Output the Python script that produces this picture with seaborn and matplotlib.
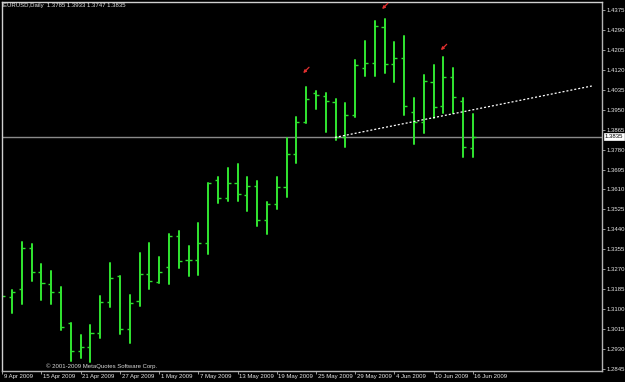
import numpy as np
import pandas as pd
import matplotlib
matplotlib.use("Agg")
import matplotlib.pyplot as plt
import matplotlib.transforms as mtransforms
import seaborn as sns

# ---------------- data ----------------
dates = ["9 Apr 2009", "10 Apr 2009", "13 Apr 2009", "14 Apr 2009", "15 Apr 2009", "16 Apr 2009",
         "17 Apr 2009", "20 Apr 2009", "21 Apr 2009", "22 Apr 2009", "23 Apr 2009", "24 Apr 2009",
         "27 Apr 2009", "28 Apr 2009", "29 Apr 2009", "30 Apr 2009", "1 May 2009", "4 May 2009",
         "5 May 2009", "6 May 2009", "7 May 2009", "8 May 2009", "11 May 2009", "12 May 2009",
         "13 May 2009", "14 May 2009", "15 May 2009", "18 May 2009", "19 May 2009", "20 May 2009",
         "21 May 2009", "22 May 2009", "25 May 2009", "26 May 2009", "27 May 2009", "28 May 2009",
         "29 May 2009", "1 Jun 2009", "2 Jun 2009", "3 Jun 2009", "4 Jun 2009", "5 Jun 2009",
         "8 Jun 2009", "9 Jun 2009", "10 Jun 2009", "11 Jun 2009", "12 Jun 2009", "15 Jun 2009",
         "16 Jun 2009"]

opens = [1.3250, 1.3150, 1.3186, 1.3362, 1.3257, 1.3207, 1.3173, 1.3039, 1.2921, 1.2940,
         1.2999, 1.3131, 1.3241, 1.3015, 1.3133, 1.3250, 1.3217, 1.3281, 1.3412, 1.3309,
         1.3309, 1.3383, 1.3650, 1.3572, 1.3639, 1.3586, 1.3626, 1.3480, 1.3548, 1.3622,
         1.3760, 1.3896, 1.4020, 1.4008, 1.3984, 1.3835, 1.3927, 1.4126, 1.4150, 1.4304,
         1.4145, 1.4172, 1.3939, 1.3896, 1.4069, 1.3966, 1.4091, 1.3987, 1.3785]
highs = [1.3331, 1.3181, 1.3385, 1.3377, 1.3292, 1.3264, 1.3193, 1.3042, 1.2990, 1.3032,
         1.3156, 1.3298, 1.3241, 1.3160, 1.3338, 1.3380, 1.3323, 1.3419, 1.3433, 1.3370,
         1.3466, 1.3636, 1.3662, 1.3703, 1.3719, 1.3662, 1.3646, 1.3558, 1.3662, 1.3828,
         1.3918, 1.4045, 1.4031, 1.4020, 1.3995, 1.3977, 1.4162, 1.4243, 1.4329, 1.4337,
         1.4237, 1.4265, 1.3999, 1.4098, 1.4141, 1.4173, 1.4126, 1.3999, 1.3933]
lows = [1.3122, 1.3082, 1.3120, 1.3220, 1.3139, 1.3120, 1.3011, 1.2880, 1.2890, 1.2876,
        1.2975, 1.3108, 1.2992, 1.2957, 1.3112, 1.3184, 1.3212, 1.3207, 1.3276, 1.3241,
        1.3245, 1.3335, 1.3554, 1.3561, 1.3561, 1.3518, 1.3455, 1.3420, 1.3525, 1.3579,
        1.3722, 1.3892, 1.3953, 1.3854, 1.3821, 1.3789, 1.3918, 1.4094, 1.4095, 1.4105,
        1.4067, 1.3927, 1.3802, 1.3849, 1.3913, 1.3935, 1.3935, 1.3750, 1.3747]
closes = [1.3156, 1.3174, 1.3362, 1.3259, 1.3210, 1.3174, 1.3022, 1.2921, 1.2940, 1.2999,
          1.3129, 1.3231, 1.3016, 1.3128, 1.3250, 1.3220, 1.3259, 1.3412, 1.3305, 1.3309,
          1.3383, 1.3636, 1.3575, 1.3639, 1.3589, 1.3626, 1.3480, 1.3548, 1.3622, 1.3760,
          1.3899, 1.3994, 1.4013, 1.3987, 1.3833, 1.3927, 1.4141, 1.4148, 1.4307, 1.4145,
          1.4172, 1.3966, 1.3896, 1.4072, 1.3963, 1.4091, 1.4003, 1.3790, 1.3835]

date_tick_idx = [0, 4, 8, 12, 16, 20, 24, 28, 32, 36, 40, 44, 48]
price_ticks = [1.4375, 1.4290, 1.4205, 1.4120, 1.4035, 1.3950, 1.3865, 1.3780, 1.3695,
               1.3610, 1.3525, 1.3440, 1.3355, 1.3270, 1.3185, 1.3100, 1.3015, 1.2930, 1.2845]
current_price = 1.3835
title_text = "EURUSD,Daily  1.3785 1.3933 1.3747 1.3835"
copyright_text = "\u00a9 2001-2009 MetaQuotes Software Corp."

trend_x = [33.95, 60.15]
trend_y = [1.3832, 1.4051]

arrow_x = [30.7, 38.75, 44.75]
arrow_y = [1.4106, 1.4379, 1.4204]

# ---------------- styling ----------------
sns.set_theme(style="dark")
plt.rcParams["font.family"] = ["Liberation Sans", "DejaVu Sans"]
plt.rcParams["axes.facecolor"] = "black"
plt.rcParams["figure.facecolor"] = "black"

GREEN = "#2fe02f"
TXT = "#e6e6e6"
FS = 4.3

W, H = 625, 382
fig = plt.figure(figsize=(W / 100, H / 100), dpi=100)
left_px, right_px, top_px, bot_px = 2.0, 601.7, 1.5, 371.0
ax = fig.add_axes([left_px / W, 1 - bot_px / H, (right_px - left_px) / W, (bot_px - top_px) / H])
ax.set_facecolor("black")

n = len(opens)
idx = np.arange(n)

# high-low vertical bars through seaborn
df = pd.DataFrame({
    "bar": np.repeat(idx, 2),
    "idx": np.repeat(idx, 2).astype(float),
    "price": np.ravel(np.column_stack([lows, highs])),
})
sns.lineplot(data=df, x="idx", y="price", units="bar", estimator=None, sort=False,
             color=GREEN, lw=1.45, ax=ax, legend=False)

# open (left) / close (right) ticks
tw = 0.32
ax.hlines(opens, idx - tw, idx, color=GREEN, lw=1.0)
ax.hlines(closes, idx, idx + tw, color=GREEN, lw=1.0)

# current price line
ax.axhline(current_price, color="#8a8a8a", lw=1.0, zorder=1)

# trend line
ax.plot(trend_x, trend_y, color="white", lw=0.9, ls=(0, (1.6, 1.6)))

# red arrows
for xa, ya in zip(arrow_x, arrow_y):
    ax.annotate("", xy=(xa, ya), xytext=(4.2, 4.2), textcoords="offset points",
                arrowprops=dict(arrowstyle="-|>", color="#e23030", lw=0.9,
                                mutation_scale=4, shrinkA=0, shrinkB=0))

ax.set_xlim(-0.03, 61.16)
ax.set_ylim(1.28361, 1.44112)
ax.set_xlabel("")
ax.set_ylabel("")
ax.grid(False)

# spines
for s in ["left", "top"]:
    ax.spines[s].set_visible(True)
    ax.spines[s].set_color("#d0d0d0")
    ax.spines[s].set_linewidth(1.0)
for s in ["right", "bottom"]:
    ax.spines[s].set_visible(True)
    ax.spines[s].set_color("#b4b4b4")
    ax.spines[s].set_linewidth(1.0)

# price axis
ax.yaxis.tick_right()
ax.set_yticks(price_ticks)
ax.set_yticklabels([f"{p:.4f}" for p in price_ticks])
ax.tick_params(axis="y", which="both", right=True, left=False, length=2, width=0.6,
               color="#b4b4b4", labelcolor=TXT, labelsize=FS, pad=1.2)

# date axis
ax.set_xticks(date_tick_idx)
ax.set_xticklabels([dates[i] for i in date_tick_idx])
ax.tick_params(axis="x", which="both", bottom=True, length=1.8, width=0.6,
               color="#b4b4b4", labelcolor=TXT, labelsize=FS, pad=0.6)
offset = mtransforms.ScaledTranslation(1.2 / 72, 0, fig.dpi_scale_trans)
for lab in ax.get_xticklabels():
    lab.set_ha("left")
    lab.set_transform(lab.get_transform() + offset)

# current price box on the axis
ax.annotate(f"{current_price:.4f}", xy=(1.0, current_price), xycoords=("axes fraction", "data"),
            xytext=(2.2, 0), textcoords="offset points", ha="left", va="center",
            fontsize=FS, color="black",
            bbox=dict(boxstyle="square,pad=0.15", fc="white", ec="white", lw=0.5))

# header and copyright texts
fig.text(3 / W, 1 - 6 / H, title_text, color=TXT, fontsize=FS, ha="left", va="center")
fig.text(46 / W, 1 - 366 / H, copyright_text, color="#d8d8d8", fontsize=FS, ha="left", va="center")

fig.savefig("out.png", dpi=100, facecolor="black")
